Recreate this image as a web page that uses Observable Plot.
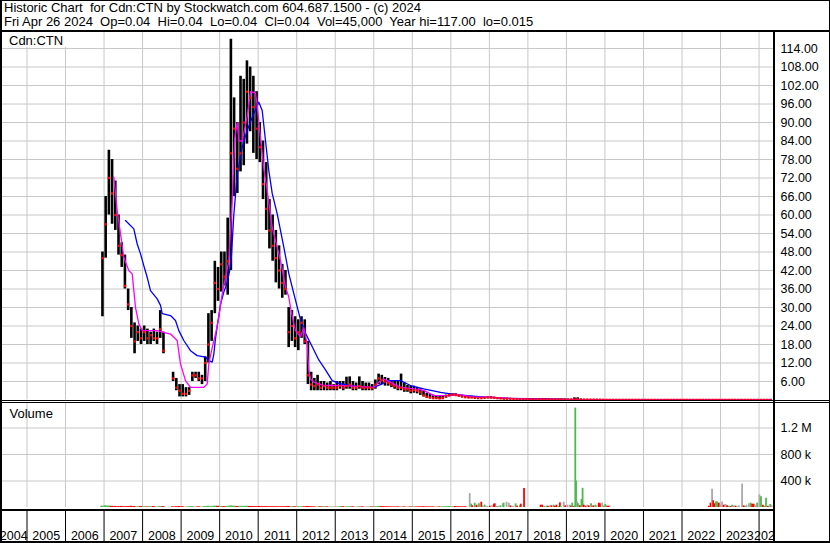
<!DOCTYPE html>
<html>
<head>
<meta charset="utf-8">
<script src="https://cdn.jsdelivr.net/npm/d3@7"></script>
<script src="https://cdn.jsdelivr.net/npm/@observablehq/plot@0.6"></script>
<style>
  html, body { margin: 0; padding: 0; background: #fff; }
  #chart { position: relative; width: 830px; height: 543px; background: #fff; overflow: hidden;
           font-family: "Liberation Sans", Arial, sans-serif; color: #000; }
  #chart svg { position: absolute; left: 0; top: 0; }
  .ln { position: absolute; background: #000; }
  .mask { position: absolute; background: #fff; }
  .hdr { position: absolute; left: 4px; font-size: 13px; line-height: 14px; white-space: pre; }
  .lbl { position: absolute; left: 2px; top: 32px; height: 15px; padding: 0 4px 0 7px; font-size: 13px;
         line-height: 17px; background: #fff; white-space: pre; }
</style>
</head>
<body>
<div id="chart"></div>
<script>
// ---------------- DATA ----------------
const titleLine = "Historic Chart  for Cdn:CTN by Stockwatch.com 604.687.1500 - (c) 2024";
const infoLine = "Fri Apr 26 2024  Op=0.04  Hi=0.04  Lo=0.04  Cl=0.04  Vol=45,000  Year hi=117.00  lo=0.015";
const symbolLabel = "Cdn:CTN";
const volumeLabel = "Volume";

const months = [
  "2006-12",
  "2007-01","2007-02","2007-03","2007-04","2007-05","2007-06","2007-07","2007-08","2007-09","2007-10","2007-11","2007-12",
  "2008-01","2008-02","2008-03","2008-04","2008-05","2008-06","2008-07","2008-10","2008-11","2008-12",
  "2009-01","2009-02","2009-03","2009-04","2009-05","2009-06","2009-07","2009-08","2009-09","2009-10","2009-11","2009-12",
  "2010-01","2010-02","2010-03","2010-04","2010-05","2010-06","2010-07","2010-08","2010-09","2010-10","2010-11","2010-12",
  "2011-01","2011-02","2011-03","2011-04","2011-05","2011-06","2011-07","2011-08","2011-09","2011-10","2011-11","2011-12",
  "2012-01","2012-02","2012-03","2012-04","2012-05","2012-06","2012-07","2012-08","2012-09","2012-10","2012-11","2012-12",
  "2013-01","2013-02","2013-03","2013-04","2013-05","2013-06","2013-07","2013-08","2013-09","2013-10","2013-11","2013-12",
  "2014-01","2014-02","2014-03","2014-04","2014-05","2014-06","2014-07","2014-08","2014-09","2014-10","2014-11","2014-12",
  "2015-01","2015-02","2015-03","2015-04","2015-05","2015-06","2015-07","2015-08","2015-09","2015-10","2015-11","2015-12",
  "2016-01","2016-02","2016-03","2016-04","2016-05","2016-06","2016-07","2016-08","2016-09","2016-10","2016-11","2016-12",
  "2017-01","2017-02","2017-03","2017-04","2017-05","2017-06","2017-07","2017-08","2017-09","2017-10","2017-11","2017-12",
  "2018-01","2018-02","2018-03","2018-04","2018-05","2018-06","2018-07","2018-08","2018-09","2018-10","2018-11","2018-12",
  "2019-01","2019-02","2019-03","2019-04","2019-05","2019-06","2019-07","2019-08","2019-09","2019-10","2019-11","2019-12",
  "2020-01","2020-02","2020-03","2020-04","2020-05","2020-06","2020-07","2020-08","2020-09","2020-10","2020-11","2020-12",
  "2021-01","2021-02","2021-03","2021-04","2021-05","2021-06","2021-07","2021-08","2021-09","2021-10","2021-11","2021-12",
  "2022-01","2022-02","2022-03","2022-04","2022-05","2022-06","2022-07","2022-08","2022-09","2022-10","2022-11","2022-12",
  "2023-01","2023-02","2023-03","2023-04","2023-05","2023-06","2023-07","2023-08","2023-09","2023-10","2023-11","2023-12",
  "2024-01","2024-02","2024-03","2024-04"
];
const highs = [
  48,
  66, 81, 78, 71, 60, 51, 47, 36, 30, 25, 24, 23,
  24, 23, 22, 23, 22, 29, 22, 9, 7, 5,
  5, 4, 4, 9, 9, 9, 8, 14, 28, 29, 45, 43,
  48, 48, 59, 117, 98, 90, 105, 104, 110, 108, 105, 100,
  90, 84, 77, 65, 60, 55, 50, 44, 42, 30, 29, 27,
  26, 27, 26, 19, 9, 7, 8, 6, 6, 5.5, 6, 5,
  6, 6, 6, 7.4, 7.5, 6, 5.5, 7.5, 6, 5.5, 5.5, 5,
  6.5, 8.4, 8, 7.3, 7, 6, 6, 6, 8.4, 5.5, 4.7, 4.5,
  4.5, 4.1, 3.6, 3, 2.2, 1.8, 1.6, 1.4, 1.2, 1.2, 1.6, 2,
  2, 2, 1.8, 1.5, 1.3, 1.2, 1.2, 1, 1, 0.9, 0.9, 1,
  1.1, 0.9, 0.8, 0.7, 0.6, 0.6, 0.5, 0.5, 0.4, 0.4, 0.4, 0.4,
  0.3, 0.3, 0.3, 0.3, 0.4, 0.4, 0.3, 0.3, 0.3, 0.3, 0.3, 0.3,
  0.2, 0.2, 0.7, 0.7, 0.3, 0.2, 0.2, 0.2, 0.2, 0.2, 0.2, 0.15,
  0.1, 0.08, 0.08, 0.08, 0.08, 0.08, 0.08, 0.08, 0.08, 0.08, 0.08, 0.08,
  0.06, 0.06, 0.06, 0.06, 0.06, 0.06, 0.06, 0.06, 0.06, 0.06, 0.06, 0.06,
  0.06, 0.06, 0.06, 0.06, 0.06, 0.06, 0.06, 0.06, 0.1, 0.1, 0.1, 0.08,
  0.08, 0.08, 0.07, 0.07, 0.07, 0.07, 0.15, 0.08, 0.08, 0.07, 0.07, 0.06,
  0.06, 0.06, 0.05, 0.05
];
const lows = [
  27,
  46, 60, 57, 55, 47, 43, 36, 29, 20, 15, 19, 18,
  19, 18, 18, 19, 18, 20, 15, 6, 3, 1,
  1, 1, 1.5, 6, 7, 6, 5, 6, 12, 19, 28, 32,
  35, 37, 34, 42, 66, 67, 74, 76, 83, 87, 80, 78,
  77, 65, 55, 49, 45, 38, 36, 33, 34, 17, 19, 17,
  16, 20, 18, 5, 3, 3, 3, 3, 3, 3, 3, 3,
  3, 3.5, 3, 3.5, 3.5, 3, 3, 3.5, 3, 3, 3, 3,
  3.5, 5, 5, 4.5, 4.5, 4, 3.5, 3, 3, 2.5, 2.5, 2,
  2.2, 2, 1.5, 1, 0.6, 0.4, 0.3, 0.3, 0.2, 0.3, 0.6, 1,
  1.2, 1.2, 1, 0.8, 0.7, 0.6, 0.5, 0.5, 0.4, 0.4, 0.4, 0.5,
  0.5, 0.5, 0.4, 0.3, 0.3, 0.3, 0.2, 0.2, 0.2, 0.1, 0.1, 0.1,
  0.1, 0.1, 0.1, 0.1, 0.1, 0.1, 0.1, 0.1, 0.1, 0.1, 0.1, 0.1,
  0.1, 0.1, 0.1, 0.1, 0.1, 0.08, 0.08, 0.08, 0.06, 0.06, 0.06, 0.05,
  0.05, 0.05, 0.05, 0.05, 0.05, 0.05, 0.05, 0.05, 0.05, 0.05, 0.05, 0.05,
  0.05, 0.05, 0.05, 0.05, 0.05, 0.05, 0.05, 0.05, 0.05, 0.05, 0.05, 0.05,
  0.04, 0.04, 0.04, 0.04, 0.04, 0.04, 0.04, 0.04, 0.03, 0.03, 0.03, 0.03,
  0.03, 0.03, 0.03, 0.03, 0.03, 0.03, 0.03, 0.03, 0.03, 0.03, 0.03, 0.03,
  0.03, 0.03, 0.03, 0.03
];
const closes = [
  46,
  57, 72, 67, 60, 50, 47, 37, 31, 24, 19, 22, 20,
  22, 20, 21, 20, 20, 23, 16, 7, 4, 3,
  2, 2, 3, 8, 8, 7, 7, 12, 18, 25, 38, 36,
  44, 40, 45, 80, 88, 75, 80, 90, 100, 98, 95, 88,
  82, 70, 62, 55, 50, 46, 42, 38, 36, 22, 24, 20,
  22, 25, 19, 8, 5, 4.5, 5, 4, 4.5, 4, 4, 4,
  4, 4.5, 4, 4.5, 5, 4, 4, 4.5, 4, 4, 4, 3.8,
  5, 7, 6.5, 6, 5.5, 5, 4.5, 4, 4, 3.5, 3.5, 3,
  3.2, 3, 2.5, 1.5, 1, 0.8, 0.6, 0.6, 0.5, 0.6, 1.2, 1.6,
  1.8, 1.6, 1.4, 1.1, 0.9, 0.8, 0.8, 0.7, 0.6, 0.6, 0.7, 0.8,
  0.8, 0.7, 0.6, 0.5, 0.4, 0.4, 0.4, 0.3, 0.3, 0.2, 0.2, 0.3,
  0.2, 0.2, 0.2, 0.2, 0.3, 0.2, 0.2, 0.2, 0.2, 0.2, 0.2, 0.2,
  0.15, 0.15, 0.2, 0.2, 0.15, 0.12, 0.12, 0.1, 0.1, 0.1, 0.08, 0.08,
  0.06, 0.06, 0.06, 0.06, 0.06, 0.06, 0.06, 0.06, 0.06, 0.06, 0.06, 0.06,
  0.05, 0.05, 0.05, 0.05, 0.05, 0.05, 0.05, 0.05, 0.05, 0.05, 0.05, 0.05,
  0.05, 0.05, 0.05, 0.05, 0.05, 0.05, 0.05, 0.05, 0.05, 0.05, 0.05, 0.05,
  0.05, 0.05, 0.05, 0.05, 0.05, 0.05, 0.06, 0.05, 0.05, 0.05, 0.05, 0.04,
  0.04, 0.04, 0.04, 0.04
];

// monthly volume (thousands of shares), Dec 2006 - May 2016
const earlyVolK = [
  20,
  25, 22, 18, 15, 14, 16, 12, 14, 18, 15, 12, 14,
  12, 10, 12, 14, 11, 15, 13, 10, 12, 14,
  12, 10, 11, 14, 12, 11, 10, 15, 18, 16, 20, 18,
  16, 14, 18, 24, 20, 16, 18, 17, 19, 16, 15, 14,
  15, 13, 14, 12, 13, 12, 11, 12, 13, 16, 12, 11,
  12, 13, 12, 15, 12, 11, 10, 11, 12, 10, 11, 10,
  10, 11, 12, 10, 11, 10, 9, 11, 10, 9, 10, 9,
  12, 16, 14, 12, 11, 10, 9, 10, 12, 9, 10, 9,
  10, 9, 11, 12, 10, 9, 10, 11, 9, 10, 12, 14,
  12, 15, 11, 10, 12
];

// weekly volume in the active periods (decimal year, thousands, g=up r=down n=unchanged)
const volT = [
  2016.49, 2016.53, 2016.56, 2016.62, 2016.67, 2016.73, 2016.79, 2016.83, 2016.88, 2016.94,
  2017.01, 2017.07, 2017.12, 2017.14, 2017.2, 2017.245, 2017.29, 2017.35, 2017.37, 2017.445,
  2017.505, 2017.55, 2017.61, 2017.68, 2017.72, 2017.79, 2017.815, 2017.90,
  2018.33, 2018.37, 2018.42, 2018.48, 2018.52, 2018.57, 2018.61, 2018.665, 2018.70, 2018.74,
  2018.79, 2018.83, 2018.85, 2018.93, 2018.97,
  2019.03, 2019.09, 2019.12, 2019.15, 2019.19, 2019.21, 2019.23, 2019.25, 2019.28, 2019.30,
  2019.35, 2019.39, 2019.42, 2019.45, 2019.50, 2019.54, 2019.58, 2019.64, 2019.695, 2019.75,
  2019.78, 2019.84, 2019.87, 2019.93, 2019.97, 2020.01, 2020.06, 2020.10,
  2022.695, 2022.74, 2022.78, 2022.81, 2022.84, 2022.88, 2022.91, 2022.955,
  2023.00, 2023.04, 2023.085, 2023.13, 2023.17, 2023.215, 2023.26, 2023.30, 2023.345, 2023.39,
  2023.43, 2023.475, 2023.56, 2023.605, 2023.64, 2023.675, 2023.735, 2023.78, 2023.82, 2023.86,
  2023.91, 2023.95, 2024.01, 2024.05, 2024.10, 2024.14, 2024.18, 2024.23, 2024.29, 2024.33
];
const volK = [
  210, 50, 25, 66, 35, 55, 80, 25, 35, 20,
  20, 25, 50, 55, 15, 20, 25, 55, 66, 80,
  66, 25, 20, 55, 20, 25, 50, 288,
  35, 35, 15, 20, 20, 25, 25, 35, 20, 35,
  15, 70, 20, 80, 25,
  35, 35, 20, 66, 15, 25, 1500, 400, 82, 55,
  25, 120, 290, 35, 20, 35, 25, 55, 25, 35,
  25, 66, 55, 66, 20, 45, 20, 20,
  20, 66, 277, 102, 55, 82, 82, 66,
  35, 82, 35, 45, 25, 20, 15, 35, 25, 20,
  15, 25, 354, 25, 15, 35, 55, 66, 50, 50,
  25, 66, 190, 164, 35, 20, 139, 20, 45, 25
];
const volDir = [
  "n","g","r","g","r","g","r","n","g","n",
  "r","n","r","r","g","n","g","n","g","n",
  "n","r","n","g","r","g","r","r",
  "r","r","g","g","r","n","r","g","r","r",
  "g","r","g","n","r",
  "n","n","r","g","r","g","g","g","n","g",
  "r","g","g","r","r","n","r","g","r","g",
  "n","r","r","n","g","g","r","r",
  "r","r","n","r","r","g","g","r",
  "n","n","r","n","r","g","r","g","n","r",
  "n","n","n","r","g","n","n","g","r","r",
  "n","g","n","g","r","g","g","r","g","n"
];

// moving averages (decimal year, price)
const maShortT = [2007.253, 2007.341, 2007.427, 2007.512, 2007.642, 2007.730, 2007.816, 2007.902, 2007.990, 2008.379,
  2008.724, 2008.898, 2008.984, 2009.114, 2009.243, 2009.589, 2009.677, 2009.718, 2009.807, 2009.892,
  2009.978, 2010.066, 2010.152, 2010.237, 2010.326, 2010.393, 2010.455, 2010.50, 2010.585, 2010.715,
  2010.801, 2010.931, 2010.975, 2011.060, 2011.146, 2011.234, 2011.320, 2011.364, 2011.579, 2011.709,
  2011.795, 2011.839, 2011.925, 2011.969, 2012.099, 2012.184, 2012.272, 2012.314, 2012.358, 2012.443,
  2012.703, 2013.136, 2013.570, 2014.001, 2014.131, 2014.260, 2014.434, 2014.694, 2015.039, 2015.298,
  2015.558, 2015.991, 2016.165, 2016.596, 2017.030, 2017.5, 2018.0, 2019.0, 2020.0, 2021.0,
  2022.0, 2023.0, 2024.32];
const maShortV = [72.3, 61.5, 53.9, 46.3, 42, 40.9, 30, 24.7, 22.5, 22.5,
  21.4, 19.3, 11.7, 6.3, 4.1, 4.1, 5.2, 11.7, 17, 21.4,
  26.8, 34.4, 39.8, 45, 65, 85, 90, 84, 84, 92,
  100, 99.5, 95.5, 85, 75, 68, 60, 56, 45.3, 36.6,
  33.4, 30, 24.7, 22.5, 20.5, 23.5, 18, 9.5, 6.8, 5.8,
  4.7, 4.7, 4.4, 4.1, 5.8, 6.8, 5.7, 4.1, 3.6, 3.1,
  1.4, 1.4, 1.8, 0.9, 0.9, 0.5, 0.3, 0.15, 0.08, 0.06,
  0.05, 0.06, 0.04];
const maLongT = [2007.556, 2007.686, 2007.772, 2007.860, 2007.946, 2008.031, 2008.120, 2008.205, 2008.379, 2008.465,
  2008.509, 2008.724, 2008.854, 2008.940, 2009.070, 2009.243, 2009.417, 2009.633, 2009.718, 2009.807,
  2009.85, 2009.892, 2009.95, 2010.022, 2010.108, 2010.196, 2010.26, 2010.307, 2010.367, 2010.455,
  2010.585, 2010.715, 2010.845, 2011.016, 2011.104, 2011.190, 2011.276, 2011.364, 2011.494, 2011.665,
  2011.795, 2011.925, 2012.099, 2012.228, 2012.358, 2012.573, 2012.747, 2012.921, 2013.136, 2013.570,
  2014.001, 2014.219, 2014.349, 2014.694, 2014.953, 2015.298, 2015.732, 2015.991, 2016.425, 2017.030,
  2017.463, 2017.982, 2018.846, 2019.37, 2020.5, 2022.0, 2023.5, 2024.32];
const maLongV = [58.2, 56.6, 55.5, 50.6, 47.4, 43.6, 39.8, 35.5, 32.8, 30.7,
  28, 27.4, 25.8, 22.5, 19.3, 16, 14.4, 13.9, 12.8, 12.3,
  15, 20, 25, 31, 35, 38, 42, 47, 60, 73,
  82, 87.4, 91.7, 96.6, 93.9, 84.1, 74.4, 67, 60.4, 49.6,
  41, 34.5, 26, 21.6, 18.4, 13, 9.8, 6.3, 5.2, 4.4,
  4.1, 5.2, 6.3, 6.3, 4.7, 3.6, 2.5, 2.0, 1.4, 0.8,
  0.5, 0.4, 0.3, 0.15, 0.12, 0.12, 0.12, 0.12];

const priceTicks = [6, 12, 18, 24, 30, 36, 42, 48, 54, 60, 66, 72, 78, 84, 90, 96, 102, 108, 114];
const volTicks = [400000, 800000, 1200000];
const volTickLabels = ["400 k", "800 k", "1.2 M"];
const years = [2004, 2005, 2006, 2007, 2008, 2009, 2010, 2011, 2012, 2013, 2014,
               2015, 2016, 2017, 2018, 2019, 2020, 2021, 2022, 2023, 2024];

// ---------------- BUILD ----------------
const FONT = "Liberation Sans, Arial, Helvetica, sans-serif";
const X0 = 2004.3122, X1 = 2024.3745;     // time range across the plot area
const W = 830, H = 543, MR = 57;
const GRID = "#c8c8c8";
const dirColor = {g: "#4cb94c", r: "#ff0000", n: "#a8a8a8"};

const ym = m => [+m.slice(0, 4), +m.slice(5, 7)];
const priceRows = months.map((m, i) => {
  const [y, mo] = ym(m);
  return {t: y + (mo - 0.5) / 12, t1: y + (mo - 1) / 12, t2: y + mo / 12,
          high: highs[i], low: lows[i], close: closes[i]};
});
const earlyVolRows = earlyVolK.map((v, i) => ({
  t1: priceRows[i].t1, t2: priceRows[i].t2, v: v * 1000,
  dir: i === 0 ? "g" : (closes[i] > closes[i - 1] ? "g" : closes[i] < closes[i - 1] ? "r" : "n")
}));
const volRows = volT.map((t, i) => ({t, v: volK[i] * 1000, dir: volDir[i]}));
const maShort = maShortT.map((t, i) => ({t, v: maShortV[i]}));
const maLong = maLongT.map((t, i) => ({t, v: maLongV[i]}));
const gridYears = years.filter(y => y > X0);
const fullYears = years.filter(y => y + 1 <= X1);
const partialYears = years.filter(y => y + 1 > X1);

const common = {
  width: W, height: H, marginLeft: 0, marginRight: MR,
  x: {type: "linear", domain: [X0, X1], axis: null},
  style: {background: "transparent", overflow: "visible", fontFamily: FONT}
};

const pricePlot = Plot.plot({
  ...common,
  marginTop: 32, marginBottom: H - 399.5,
  y: {domain: [0, 119.2], axis: null},
  marks: [
    Plot.ruleY(priceTicks, {stroke: GRID, strokeWidth: 1}),
    Plot.ruleX(gridYears, {stroke: GRID, strokeWidth: 1}),
    Plot.ruleX(priceRows, {x: "t", y1: "low", y2: "high", stroke: "#000", strokeWidth: 2.6}),
    Plot.line(maLong, {x: "t", y: "v", stroke: "#0000ff", strokeWidth: 1.3}),
    Plot.line(maShort, {x: "t", y: "v", stroke: "#ff00ff", strokeWidth: 1.3}),
    Plot.dot(priceRows, {x: "t", y: "close", symbol: "square", r: 1.3, fill: "#ff0000", stroke: null}),
    Plot.text(priceTicks, {x: X1, y: d => d, text: d => d.toFixed(2), dx: 7, textAnchor: "start",
      fontSize: 12.5, fill: "#000", fontFamily: FONT})
  ]
});

const volPlot = Plot.plot({
  ...common,
  marginTop: 402, marginBottom: H - 507,
  y: {domain: [0, 1585000], axis: null},
  marks: [
    Plot.ruleY(volTicks, {stroke: GRID, strokeWidth: 1}),
    Plot.ruleX(gridYears, {stroke: GRID, strokeWidth: 1}),
    Plot.rectY(earlyVolRows, {x1: "t1", x2: "t2", y1: 0, y2: "v", fill: d => dirColor[d.dir]}),
    Plot.ruleX(volRows, {x: "t", y1: 0, y2: "v", stroke: d => dirColor[d.dir], strokeWidth: 1.8}),
    Plot.text(volTicks, {x: X1, y: d => d, text: (d, i) => volTickLabels[i], dx: 7, textAnchor: "start",
      fontSize: 12.5, fill: "#000", fontFamily: FONT}),
    Plot.text([volumeLabel], {frameAnchor: "top-left", dx: 9, dy: 6, textAnchor: "start", lineAnchor: "top",
      fontSize: 13, fill: "#000", fontFamily: FONT})
  ]
});

const axisPlot = Plot.plot({
  ...common,
  marginTop: 510, marginBottom: 1,
  y: {domain: [0, 1], axis: null},
  marks: [
    Plot.ruleX(gridYears, {stroke: "#000", strokeWidth: 1}),
    Plot.text(fullYears, {x: y => (Math.max(y, X0) + y + 1) / 2, text: y => String(y),
      frameAnchor: "bottom", lineAnchor: "bottom", dy: -3, fontSize: 12.5, fill: "#000",
      fontFamily: FONT}),
    // the last, partial year: label starts just left of its separator and runs under the right edge
    Plot.text(partialYears, {x: y => y, text: y => String(y), textAnchor: "start", dx: -5,
      frameAnchor: "bottom", lineAnchor: "bottom", dy: -3, fontSize: 12.5, fill: "#000",
      fontFamily: FONT})
  ]
});

const chart = document.getElementById("chart");
chart.appendChild(pricePlot);
chart.appendChild(volPlot);
chart.appendChild(axisPlot);

function box(cls, l, t, w, h) {
  const d = document.createElement("div");
  d.className = cls;
  Object.assign(d.style, {left: l + "px", top: t + "px", width: w + "px", height: h + "px"});
  chart.appendChild(d);
}
function text(cls, t, s) {
  const d = document.createElement("div");
  d.className = cls;
  d.style.top = t + "px";
  d.textContent = s;
  chart.appendChild(d);
}
text("hdr", 1, titleLine);
text("hdr", 15, infoLine);
text("lbl", 32, symbolLabel);

box("mask", 775, 511, 55, 30);   // date row right of the plot stays blank
box("ln", 0, 0, 830, 1);         // outer top
box("ln", 0, 0, 2, 543);         // outer left
box("ln", 829, 0, 1, 543);       // outer right
box("ln", 0, 541, 830, 2);       // outer bottom
box("ln", 0, 30, 830, 2);        // header separator
box("ln", 0, 400, 830, 1);       // price panel bottom
box("ln", 0, 402, 830, 1);       // volume panel top
box("ln", 773, 31, 2, 512);      // right axis separator
box("ln", 0, 509, 775, 2);       // volume bottom / date axis top
</script>
</body>
</html>
